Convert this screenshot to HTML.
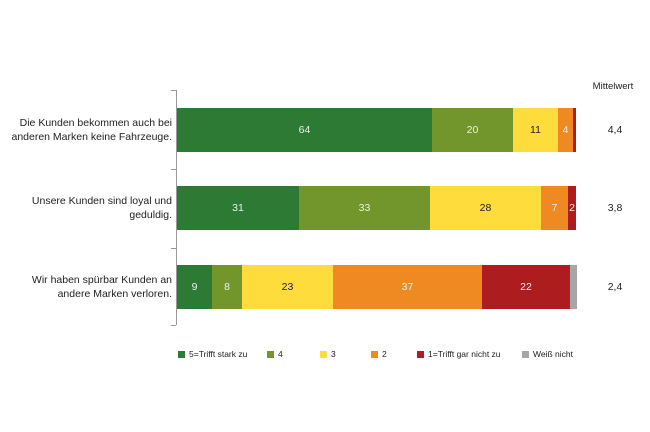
<!DOCTYPE html>
<html><head><meta charset="utf-8"><style>
body{margin:0;width:650px;height:432px;background:#fff;font-family:"Liberation Sans",sans-serif;position:relative;overflow:hidden}
.a{position:absolute}
.lbl{position:absolute;right:478px;text-align:right;font-size:10.5px;line-height:14px;color:#222;white-space:nowrap}
.seg{position:absolute;height:44px;display:flex;align-items:center;justify-content:center;font-size:10.5px;color:#eee}
.mv{position:absolute;left:600px;width:30px;text-align:center;font-size:10.5px;color:#222}
.lg{position:absolute;top:349px;font-size:8.5px;color:#222}
.lg i{display:inline-block;width:7px;height:7px;margin-right:4px;vertical-align:-1px}
</style></head><body>
<div class="a" style="left:176px;top:90px;width:1px;height:235px;background:#999"></div>
<div class="a" style="left:171px;top:90px;width:5px;height:1px;background:#999"></div>
<div class="a" style="left:171px;top:169px;width:5px;height:1px;background:#999"></div>
<div class="a" style="left:171px;top:248px;width:5px;height:1px;background:#999"></div>
<div class="a" style="left:171px;top:325px;width:5px;height:1px;background:#999"></div>

<div class="lbl" style="top:116px">Die Kunden bekommen auch bei<br>anderen Marken keine Fahrzeuge.</div>
<div class="lbl" style="top:194px">Unsere Kunden sind loyal und<br>geduldig.</div>
<div class="lbl" style="top:273px">Wir haben spürbar Kunden an<br>andere Marken verloren.</div>

<div class="seg" style="top:108px;left:177px;width:255px;background:#2c7a33">64</div>
<div class="seg" style="top:108px;left:432px;width:81px;background:#72962c">20</div>
<div class="seg" style="top:108px;left:513px;width:45px;background:#fedc3c;color:#222">11</div>
<div class="seg" style="top:108px;left:558px;width:15px;background:#ef8a23">4</div>
<div class="seg" style="top:108px;left:573px;width:3px;background:#ad1c1e"></div>

<div class="seg" style="top:186px;left:177px;width:122px;background:#2c7a33">31</div>
<div class="seg" style="top:186px;left:299px;width:131px;background:#72962c">33</div>
<div class="seg" style="top:186px;left:430px;width:111px;background:#fedc3c;color:#222">28</div>
<div class="seg" style="top:186px;left:541px;width:27px;background:#ef8a23">7</div>
<div class="seg" style="top:186px;left:568px;width:8px;background:#ad1c1e">2</div>

<div class="seg" style="top:265px;left:177px;width:35px;background:#2c7a33">9</div>
<div class="seg" style="top:265px;left:212px;width:30px;background:#72962c">8</div>
<div class="seg" style="top:265px;left:242px;width:91px;background:#fedc3c;color:#222">23</div>
<div class="seg" style="top:265px;left:333px;width:149px;background:#ef8a23">37</div>
<div class="seg" style="top:265px;left:482px;width:88px;background:#ad1c1e">22</div>
<div class="seg" style="top:265px;left:570px;width:7px;background:#a6a6a6"></div>

<div class="mv" style="top:81px;left:588px;width:50px;font-size:9.5px">Mittelwert</div>
<div class="mv" style="top:124px">4,4</div>
<div class="mv" style="top:202px">3,8</div>
<div class="mv" style="top:281px">2,4</div>

<div class="lg" style="left:178px"><i style="background:#2c7a33"></i>5=Trifft stark zu</div>
<div class="lg" style="left:267px"><i style="background:#72962c"></i>4</div>
<div class="lg" style="left:320px"><i style="background:#fedc3c"></i>3</div>
<div class="lg" style="left:371px"><i style="background:#ef8a23"></i>2</div>
<div class="lg" style="left:417px"><i style="background:#ad1c1e"></i>1=Trifft gar nicht zu</div>
<div class="lg" style="left:522px"><i style="background:#a6a6a6"></i>Weiß nicht</div>
</body></html>
